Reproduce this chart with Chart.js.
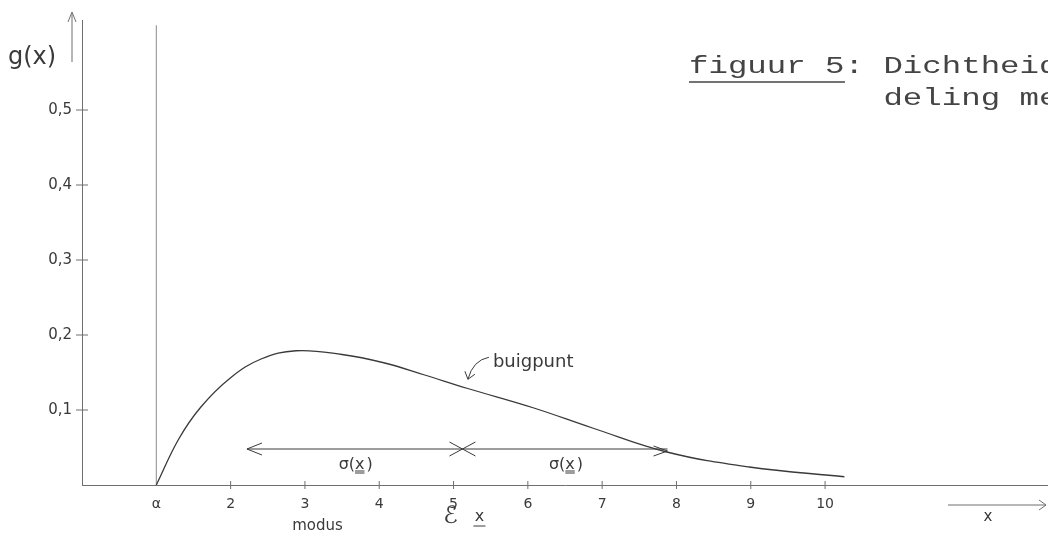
<!DOCTYPE html>
<html>
<head>
<meta charset="utf-8">
<title>figuur 5</title>
<script src="https://cdn.jsdelivr.net/npm/chart.js@4.4.1/dist/chart.umd.min.js"></script>
<style>
  html, body { margin: 0; padding: 0; background: #fff; }
  #wrap { width: 1048px; height: 540px; position: relative; }
</style>
</head>
<body>
<div id="wrap"><canvas id="densityChart"></canvas></div>
<script>
/* ------------------------------------------------------------------
   Data — skewed density g(x), starting at alpha
   ------------------------------------------------------------------ */
var curveX = [1.0, 1.3, 1.6, 2.0, 2.41, 2.88, 3.5, 4.06, 4.6, 5.18, 6.07, 6.87, 7.87, 8.98, 10.26];
var curveY = [0, 0.061, 0.104, 0.143, 0.168, 0.179, 0.174, 0.163, 0.147, 0.129, 0.103, 0.076, 0.044, 0.024, 0.011];

var yTicks      = [0.1, 0.2, 0.3, 0.4, 0.5];
var xTicks      = [1, 2, 3, 4, 5, 6, 7, 8, 9, 10];
var xTickLabels = ['\u03B1', '2', '3', '4', '5', '6', '7', '8', '9', '10'];

var alphaX     = 1;        // start of the distribution
var alphaTop   = 0.613;    // height of the vertical line at alpha
var meanX      = 5.12;     // E x, where the two sigma arrows meet
var sigmaEnds  = [2.22, 7.88];
var sigmaY     = 0.048;
var modusX     = 3.17;
var inflection = [5.18, 0.129];

var INK    = '#3a3a3a';
var PENCIL = '#6f6f6f';
var HAND   = "15px 'DejaVu Sans'";

/* ------------------------------------------------------------------
   Hand-drawn extras: ticks, arrows, labels, caption
   ------------------------------------------------------------------ */
function line(ctx, x1, y1, x2, y2) {
  ctx.beginPath();
  ctx.moveTo(x1, y1);
  ctx.lineTo(x2, y2);
  ctx.stroke();
}

// text with a double underline under the x
function sigmaLabel(ctx, cx, cy) {
  ctx.font = "16px 'DejaVu Sans'";
  ctx.textAlign = 'left';
  ctx.textBaseline = 'alphabetic';
  var pre = '\u03C3(', mid = 'x', post = ')';
  var w1 = ctx.measureText(pre).width, w2 = ctx.measureText(mid).width, w3 = ctx.measureText(post).width;
  var x0 = cx - (w1 + w2 + w3) / 2;
  ctx.fillText(pre, x0, cy);
  ctx.fillText(mid, x0 + w1, cy);
  ctx.fillText(post, x0 + w1 + w2 + 2, cy);
  line(ctx, x0 + w1, cy + 2, x0 + w1 + w2, cy + 2);
  line(ctx, x0 + w1, cy + 4, x0 + w1 + w2, cy + 4);
}

var sketchPlugin = {
  id: 'sketchMarks',
  afterDraw: function (chart) {
    var ctx = chart.ctx;
    var xs = chart.scales.x, ys = chart.scales.y;
    var area = chart.chartArea;
    var bottom = ys.getPixelForValue(0);

    ctx.save();
    ctx.strokeStyle = PENCIL;
    ctx.fillStyle = INK;
    ctx.lineWidth = 1;

    // tick marks crossing the axes
    yTicks.forEach(function (v) {
      var py = ys.getPixelForValue(v);
      line(ctx, area.left - 6, py, area.left + 6, py);
    });
    xTicks.slice(1).forEach(function (v) {
      var px = xs.getPixelForValue(v);
      line(ctx, px, bottom - 4, px, bottom + 4);
    });

    // arrow beside the y axis
    var ax = area.left - 10;
    line(ctx, ax, area.top - 6, ax, area.top + 42);
    line(ctx, ax, area.top - 8, ax - 4, area.top + 2);
    line(ctx, ax, area.top - 8, ax + 4, area.top + 2);

    ctx.font = "24px 'DejaVu Sans'";
    ctx.textAlign = 'left';
    ctx.textBaseline = 'alphabetic';
    ctx.fillText('g(x)', 8, 64);

    // sigma arrows: outer heads and the crossing at E x
    var sy = ys.getPixelForValue(sigmaY);
    var sl = xs.getPixelForValue(sigmaEnds[0]);
    var sr = xs.getPixelForValue(sigmaEnds[1]);
    var sm = xs.getPixelForValue(meanX);
    ctx.strokeStyle = INK;
    line(ctx, sl, sy, sl + 15, sy - 6);
    line(ctx, sl, sy, sl + 15, sy + 6);
    line(ctx, sr, sy + 2, sr - 14, sy - 3);
    line(ctx, sr, sy + 2, sr - 14, sy + 7);
    line(ctx, sm - 13, sy - 7, sm + 13, sy + 7);
    line(ctx, sm - 13, sy + 7, sm + 13, sy - 7);

    sigmaLabel(ctx, (sl + sm) / 2, sy + 20);
    sigmaLabel(ctx, (sm + sr) / 2, sy + 20);

    // inflection point note
    var ipx = xs.getPixelForValue(inflection[0]);
    var ipy = ys.getPixelForValue(inflection[1]);
    ctx.font = "18px 'DejaVu Sans'";
    ctx.fillText('buigpunt', ipx + 26, ipy - 21);
    ctx.beginPath();
    ctx.moveTo(ipx + 22, ipy - 31);
    ctx.quadraticCurveTo(ipx + 6, ipy - 28, ipx + 1, ipy - 9);
    ctx.stroke();
    line(ctx, ipx + 1, ipy - 9, ipx - 2, ipy - 17);
    line(ctx, ipx + 1, ipy - 9, ipx + 8, ipy - 14);

    // modus and expectation under the axis
    ctx.font = HAND;
    ctx.textAlign = 'center';
    ctx.fillText('modus', xs.getPixelForValue(modusX), bottom + 45);
    var ex = xs.getPixelForValue(meanX);
    ctx.font = "24px 'DejaVu Sans'";
    ctx.fillText('\u2130', ex - 12, bottom + 38);
    ctx.font = "16px 'DejaVu Sans'";
    ctx.fillText('x', ex + 17, bottom + 36);
    line(ctx, ex + 11, bottom + 41, ex + 23, bottom + 41);

    // x axis arrow and label
    ctx.strokeStyle = PENCIL;
    var arY = bottom + 20;
    line(ctx, area.right - 100, arY, area.right - 2, arY);
    line(ctx, area.right - 2, arY, area.right - 9, arY - 5);
    line(ctx, area.right - 2, arY, area.right - 9, arY + 5);
    ctx.fillStyle = INK;
    ctx.font = HAND;
    ctx.fillText('x', area.right - 60, bottom + 36);

    // typed caption
    ctx.fillStyle = '#444';
    ctx.font = "24px 'Liberation Mono'";
    ctx.textAlign = 'left';
    ctx.save();
    ctx.translate(689, 73);
    ctx.scale(1.35, 1);
    ctx.fillText('figuur 5: Dichtheidsver-', 0, 0);
    ctx.fillText('          deling met', 0, 32);
    ctx.restore();
    ctx.strokeStyle = '#444';
    ctx.lineWidth = 1.5;
    line(ctx, 689, 82, 845, 82);

    ctx.restore();
  }
};

/* ------------------------------------------------------------------
   Chart
   ------------------------------------------------------------------ */
function initDensityChart() {
  var canvas = document.getElementById('densityChart');
  if (!canvas) return;

  var curve = curveX.map(function (x, i) { return { x: x, y: curveY[i] }; });

  new Chart(canvas, {
    type: 'line',
    data: {
      datasets: [
        {
          data: curve,
          borderColor: INK,
          borderWidth: 1.3,
          tension: 0.4,
          pointRadius: 0,
        },
        {
          data: [{ x: alphaX, y: 0 }, { x: alphaX, y: alphaTop }],
          borderColor: '#8a8a8a',
          borderWidth: 1,
          pointRadius: 0,
        },
        {
          data: [{ x: sigmaEnds[0], y: sigmaY }, { x: sigmaEnds[1], y: sigmaY }],
          borderColor: INK,
          borderWidth: 1,
          pointRadius: 0,
        },
      ],
    },
    options: {
      responsive: true,
      maintainAspectRatio: false,
      animation: false,
      layout: { padding: { top: 20, left: 0, right: 0, bottom: 0 } },
      plugins: { legend: { display: false }, tooltip: { enabled: false } },
      scales: {
        x: {
          type: 'linear',
          min: 0,
          max: 13,
          grid: { display: false },
          border: { display: true, color: PENCIL, width: 1 },
          afterBuildTicks: function (s) {
            s.ticks = xTicks.map(function (v) { return { value: v }; });
          },
          afterFit: function (s) { s.height = 55; },
          ticks: {
            padding: 3,
            color: INK,
            font: { family: "'DejaVu Sans'", size: 14 },
            autoSkip: false,
            maxRotation: 0,
            callback: function (v) { return xTickLabels[xTicks.indexOf(v)]; },
          },
        },
        y: {
          type: 'linear',
          min: 0,
          max: 0.62,
          grid: { display: false },
          border: { display: true, color: PENCIL, width: 1 },
          afterBuildTicks: function (s) {
            s.ticks = yTicks.map(function (v) { return { value: v }; });
          },
          afterFit: function (s) { s.width = 82; },
          ticks: {
            padding: 2,
            color: INK,
            font: { family: "'DejaVu Sans'", size: 15 },
            callback: function (v) { return v.toFixed(1).replace('.', ','); },
          },
        },
      },
    },
    plugins: [sketchPlugin],
  });
}

initDensityChart();
</script>
</body>
</html>
